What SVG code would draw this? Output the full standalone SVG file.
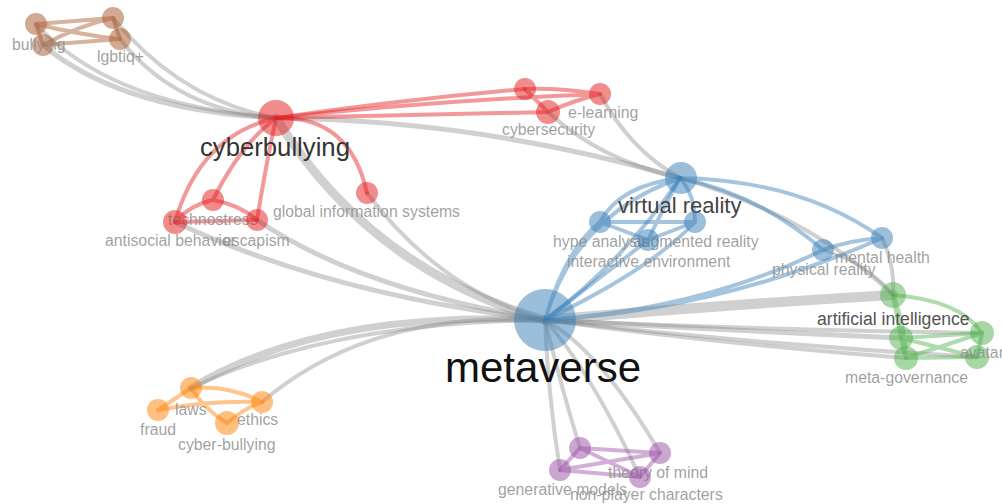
<svg xmlns="http://www.w3.org/2000/svg" width="1002" height="504" viewBox="0 0 1002 504">
<style>
.g{fill:none;stroke:#8a8a8a;stroke-opacity:.4;stroke-linecap:round}
.e{fill:none;stroke-opacity:.45;stroke-width:4;stroke-linecap:round}
.r{stroke:#e41a1c}.b{stroke:#377eb8}.gr{stroke:#4daf4a}.o{stroke:#ff7f00}.p{stroke:#984ea3}.br{stroke:#a65628}
.n{fill-opacity:.5}
.nr{fill:#e41a1c}.nb{fill:#377eb8}.ng{fill:#4daf4a}.no{fill:#ff7f00}.np{fill:#984ea3}.nbr{fill:#a65628}
text{font-family:"Liberation Sans",Arial,sans-serif}
.l{font-size:15.8px;fill:#8f8f8f;fill-opacity:.85}
</style>
<rect width="1002" height="504" fill="#fff"/>
<g id="connectors">
<g id="gray-edges">
<path class="g" stroke-width="9" d="M276,118 Q370,270 545,320"/>
<path class="g" stroke-width="5" d="M276,118 Q480,120 680,178"/>
<path class="g" stroke-width="4" d="M36,24 Q110,105 276,118"/>
<path class="g" stroke-width="5" d="M43,45 Q120,110 276,118"/>
<path class="g" stroke-width="4" d="M113,18 Q180,100 276,118"/>
<path class="g" stroke-width="4" d="M120,39 Q175,110 276,118"/>
<path class="g" stroke-width="5" d="M175,222 Q330,295 545,320"/>
<path class="g" stroke-width="5" d="M257,220 Q360,290 545,320"/>
<path class="g" stroke-width="4" d="M367,193 Q440,290 545,320"/>
<path class="g" stroke-width="4" d="M600,94 Q630,150 680,178"/>
<path class="g" stroke-width="4" stroke-opacity=".55" d="M548,112 Q600,160 680,178"/>
<path class="g" stroke-width="4" d="M680,178 Q810,215 893,295"/>
<path class="g" stroke-width="4" d="M882,238 Q895,265 893,295"/>
<path class="g" stroke-width="3" d="M823,250 Q870,265 893,295"/>
<path class="g" stroke-width="10" stroke-opacity=".35" d="M545,320 Q720,305 893,295"/>
<path class="g" stroke-width="5" d="M545,320 Q720,330 901,338"/>
<path class="g" stroke-width="4" d="M545,320 Q730,345 906,358"/>
<path class="g" stroke-width="4" d="M545,320 Q760,330 982,333"/>
<path class="g" stroke-width="4" d="M545,320 Q760,345 977,357"/>
<path class="g" stroke-width="7" stroke-opacity=".3" d="M191,388 Q320,310 545,320"/>
<path class="g" stroke-width="4" d="M191,388 Q330,322 545,320"/>
<path class="g" stroke-width="4" stroke-opacity=".55" d="M262,402 Q370,310 545,320"/>
<path class="g" stroke-width="4" d="M545,320 Q548,395 560,470"/>
<path class="g" stroke-width="4" d="M545,320 Q562,390 580,448"/>
<path class="g" stroke-width="4" d="M545,320 Q590,370 640,477"/>
<path class="g" stroke-width="4" d="M545,320 Q600,350 660,453"/>
</g>
<g id="cluster-edges">
<path class="e br" d="M36,24 L113,18 M36,24 Q80,35 120,39 M43,45 Q80,42 120,39 M43,45 Q80,25 113,18 M36,24 L43,45 M113,18 L120,39"/>
<path class="e r" stroke-width="5" d="M276,118 Q400,100 525,89"/>
<path class="e r" d="M276,118 Q420,115 548,112 M276,118 Q440,100 600,94 M525,89 Q560,88 600,94 M525,89 L548,112 M548,112 Q575,100 600,94"/>
<path class="e r" d="M276,118 Q350,115 367,193 M276,118 Q200,135 175,222 M276,118 Q240,145 213,200 M276,118 Q265,170 257,220 M213,200 Q190,205 175,222 M213,200 Q240,205 257,220"/>
<path class="e r" stroke-opacity=".3" d="M175,222 L257,220"/>
<path class="e b" stroke-width="6" d="M545,320 Q625,260 680,178"/>
<path class="e b" d="M545,320 Q575,215 680,178 M545,320 Q565,250 600,222 M545,320 Q610,270 648,240 M545,320 Q650,270 695,222 M600,222 Q620,185 680,178 M648,240 Q665,205 680,178 M695,222 Q695,195 680,178 M600,222 L695,222 M600,222 L648,240 M648,240 L695,222"/>
<path class="e b" d="M545,320 Q700,310 823,250 M545,320 Q720,310 882,238 M680,178 Q800,180 882,238 M680,178 Q760,195 823,250 M823,250 Q850,240 882,238"/>
<path class="e gr" d="M893,295 Q960,300 982,333 M893,295 L901,338 M893,295 Q905,325 906,358 M901,338 L982,333 M901,338 L977,357 M906,358 L982,333 M906,358 L977,357 M901,338 L906,358 M982,333 L977,357"/>
<path class="e o" d="M191,388 L158,410 M191,388 Q230,385 262,402 M158,410 Q210,400 262,402 M191,388 Q205,410 227,423 M227,423 Q245,408 262,402"/>
<path class="e p" d="M580,448 L660,453 M580,448 L560,470 M560,470 L660,453 M560,470 L640,477 M580,448 L640,477 M640,477 L660,453"/>
</g>
</g>
<g id="n-bullying"><circle class="n nbr" cx="36" cy="24" r="11"/><circle class="n nbr" cx="43" cy="45" r="11"/><text class="l" x="12" y="50">bullying</text></g>
<g id="n-lgbtiq"><circle class="n nbr" cx="113" cy="18" r="11"/><circle class="n nbr" cx="120" cy="39" r="11"/><text class="l" x="97" y="62">lgbtiq+</text></g>
<g id="n-cyberbullying"><circle class="n nr" cx="276" cy="118" r="18"/><text x="200" y="156" font-size="25.7" fill="#333">cyberbullying</text></g>
<g id="n-elearning"><circle class="n nr" cx="525" cy="89" r="11"/><circle class="n nr" cx="600" cy="94" r="11"/><text class="l" x="568" y="118">e-learning</text></g>
<g id="n-cybersecurity"><circle class="n nr" cx="548" cy="112" r="12"/><text class="l" x="502" y="135">cybersecurity</text></g>
<g id="n-gis"><circle class="n nr" cx="367" cy="193" r="11"/><text class="l" x="273" y="217">global information systems</text></g>
<g id="n-technostress"><circle class="n nr" cx="213" cy="200" r="11"/><text class="l" x="168" y="225">technostress</text></g>
<g id="n-antisocial"><circle class="n nr" cx="175" cy="222" r="12"/><text class="l" x="105" y="246">antisocial behavior</text></g>
<g id="n-escapism"><circle class="n nr" cx="257" cy="220" r="11"/><text class="l" x="223" y="246">escapism</text></g>
<g id="n-vr"><circle class="n nb" cx="681" cy="178" r="16"/><text x="618" y="213" font-size="22" fill="#444">virtual reality</text></g>
<g id="n-hype"><circle class="n nb" cx="600" cy="222" r="11"/><text class="l" x="553" y="247">hype analysis</text></g>
<g id="n-augmented"><circle class="n nb" cx="695" cy="222" r="11"/><text class="l" x="633" y="247">augmented reality</text></g>
<g id="n-interactive"><circle class="n nb" cx="648" cy="240" r="11"/><text class="l" x="567" y="267">interactive environment</text></g>
<g id="n-physical"><circle class="n nb" cx="823" cy="250" r="11"/><text class="l" x="772" y="275">physical reality</text></g>
<g id="n-mental"><circle class="n nb" cx="882" cy="238" r="11"/><text class="l" x="835" y="263">mental health</text></g>
<g id="n-ai"><circle class="n ng" cx="893" cy="295" r="13"/><circle class="n ng" cx="901" cy="338" r="12"/><text x="817" y="325" font-size="17.6" fill="#555">artificial intelligence</text></g>
<g id="n-avatar"><circle class="n ng" cx="982" cy="333" r="12"/><circle class="n ng" cx="977" cy="357" r="12"/><text class="l" x="960" y="358">avatar</text></g>
<g id="n-metagov"><circle class="n ng" cx="906" cy="358" r="12"/><text class="l" x="845" y="383">meta-governance</text></g>
<g id="n-laws"><circle class="n no" cx="191" cy="388" r="11"/><text class="l" x="175" y="415">laws</text></g>
<g id="n-fraud"><circle class="n no" cx="158" cy="410" r="11"/><text class="l" x="140" y="435">fraud</text></g>
<g id="n-ethics"><circle class="n no" cx="262" cy="402" r="11"/><text class="l" x="237" y="425">ethics</text></g>
<g id="n-cyber-bullying"><circle class="n no" cx="227" cy="423" r="12"/><text class="l" x="178" y="450">cyber-bullying</text></g>
<g id="n-theory"><circle class="n np" cx="580" cy="448" r="11"/><circle class="n np" cx="660" cy="453" r="11"/><text class="l" x="608" y="478">theory of mind</text></g>
<g id="n-generative"><circle class="n np" cx="560" cy="470" r="11"/><text class="l" x="498" y="495">generative models</text></g>
<g id="n-npc"><circle class="n np" cx="640" cy="477" r="11"/><text class="l" x="570" y="500">non-player characters</text></g>
<g id="n-metaverse"><circle class="n nb" cx="545" cy="320" r="31" fill-opacity=".6"/><text x="445" y="382" font-size="42" fill="#111">metaverse</text></g>
</svg>
